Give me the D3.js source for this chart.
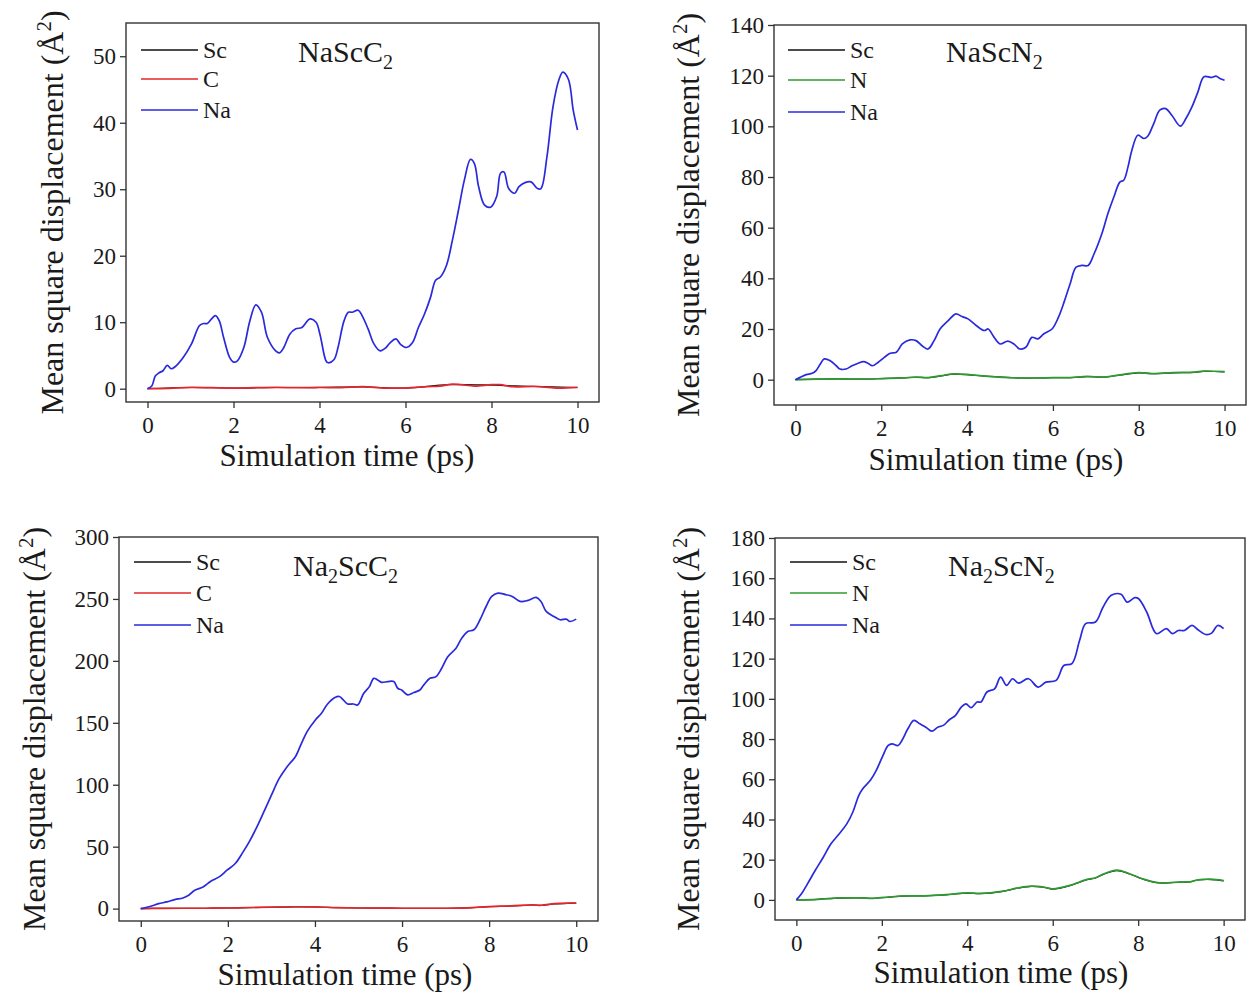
<!DOCTYPE html>
<html>
<head>
<meta charset="utf-8">
<script src="https://cdn.jsdelivr.net/npm/d3@7"></script>
<style>
  body { margin: 0; background: #fff; }
  svg { display: block; }
  text { font-family: "Liberation Serif", "Times New Roman", serif; fill: #1a1a1a; }
</style>
</head>
<body>
<div id="chart"></div>
<script>
// ---- data: [time (ps), MSD (Å^2)] ----
var tickX = [0, 2, 4, 6, 8, 10];

// NaScC2
var naScC2_Na = [[0,0],[0.1,0.4],[0.18,1.9],[0.27,2.4],[0.36,2.7],[0.46,3.5],[0.55,3.0],[0.64,3.3],[0.83,4.7],[1.02,6.7],[1.21,9.5],[1.3,9.8],[1.39,9.8],[1.49,10.5],[1.58,11.0],[1.67,10.2],[1.77,7.7],[1.91,4.7],[2.0,4.0],[2.09,4.2],[2.24,6.2],[2.38,10.2],[2.52,12.6],[2.65,11.5],[2.79,7.7],[2.98,5.7],[3.07,5.4],[3.17,6.2],[3.31,8.2],[3.45,9.0],[3.59,9.2],[3.78,10.5],[3.92,10.0],[4.01,8.2],[4.15,4.2],[4.2,3.9],[4.34,4.4],[4.43,6.2],[4.57,10.2],[4.67,11.5],[4.76,11.5],[4.9,11.8],[4.99,11.0],[5.13,9.0],[5.27,6.7],[5.41,5.7],[5.55,6.2],[5.64,6.9],[5.78,7.5],[5.88,6.7],[6.02,6.2],[6.16,6.9],[6.3,9.2],[6.44,11.2],[6.58,13.7],[6.7,16.3],[6.81,16.8],[6.95,18.5],[7.09,22.3],[7.23,26.8],[7.37,31.4],[7.51,34.5],[7.6,33.9],[7.7,30.4],[7.84,27.6],[7.98,27.3],[8.12,28.9],[8.21,32.4],[8.29,32.6],[8.4,30.1],[8.54,29.4],[8.64,30.4],[8.78,31.0],[8.92,31.1],[9.07,30.1],[9.15,30.1],[9.29,34.9],[9.43,42.4],[9.57,46.5],[9.66,47.6],[9.79,46.5],[9.9,41.9],[10,38.9]];
var naScC2_C = [[0,0],[0.5,0.05],[1,0.2],[1.5,0.15],[2,0.1],[2.5,0.15],[3,0.2],[3.5,0.15],[4,0.2],[4.5,0.15],[5,0.3],[5.5,0.1],[6,0.1],[6.5,0.3],[6.8,0.4],[7.1,0.7],[7.3,0.6],[7.6,0.4],[8.0,0.6],[8.2,0.6],[8.5,0.3],[9.0,0.35],[9.5,0.1],[10,0.2]];
var naScC2_Sc = [[0,0],[1,0.18],[2,0.1],[3,0.18],[4,0.18],[5,0.27],[6,0.1],[7,0.6],[8,0.55],[9,0.33],[10,0.18]];

// NaScN2
var naScN2_Na = [[0,0],[0.11,0.9],[0.25,2.0],[0.39,2.5],[0.48,3.6],[0.58,6.2],[0.67,8.2],[0.81,7.5],[0.95,5.5],[1.04,4.2],[1.18,4.2],[1.32,5.5],[1.46,6.5],[1.58,7.1],[1.69,6.5],[1.79,5.5],[1.93,6.9],[2.07,8.8],[2.21,10.4],[2.35,10.8],[2.49,14.1],[2.67,15.7],[2.81,15.4],[2.95,13.4],[3.09,12.1],[3.23,15.4],[3.37,20.0],[3.56,23.3],[3.74,26.0],[3.88,24.9],[4.02,24.0],[4.21,21.4],[4.4,19.4],[4.49,20.0],[4.63,16.7],[4.77,14.1],[4.95,15.2],[5.09,14.1],[5.23,12.1],[5.37,12.8],[5.51,16.7],[5.65,16.1],[5.79,18.1],[5.98,20.0],[6.13,24.7],[6.26,30.6],[6.4,37.8],[6.54,44.4],[6.68,45.1],[6.82,45.1],[6.96,49.7],[7.14,57.6],[7.28,65.5],[7.42,72.1],[7.56,78.0],[7.65,78.7],[7.75,84.0],[7.84,90.6],[7.98,96.5],[8.12,95.2],[8.21,96.1],[8.35,101.1],[8.49,106.4],[8.63,107.0],[8.77,104.4],[8.97,100.1],[9.1,103.1],[9.24,107.7],[9.38,113.6],[9.52,119.6],[9.7,119.3],[9.8,119.8],[9.89,118.9],[10,118.2]];
var naScN2_N = [[0,0],[0.5,0.2],[1,0.3],[1.5,0.2],[2,0.4],[2.5,0.7],[2.8,1.0],[3.1,0.8],[3.4,1.6],[3.7,2.3],[4.1,1.9],[4.5,1.3],[5.0,0.8],[5.3,0.6],[5.7,0.7],[6.0,0.8],[6.4,0.8],[6.8,1.3],[7.2,1.0],[7.6,2.0],[8.0,2.8],[8.3,2.4],[8.8,2.8],[9.3,3.0],[9.5,3.4],[10,3.2]];
var naScN2_Sc = [[0,0],[0.5,0.2],[1,0.3],[1.5,0.2],[2,0.4],[2.5,0.7],[2.8,0.95],[3.1,0.8],[3.4,1.5],[3.7,2.2],[4.1,1.8],[4.5,1.3],[5.0,0.8],[5.3,0.6],[5.7,0.7],[6.0,0.8],[6.4,0.8],[6.8,1.2],[7.2,1.0],[7.6,1.9],[8.0,2.7],[8.3,2.4],[8.8,2.7],[9.3,2.9],[9.5,3.3],[10,3.1]];

// Na2ScC2
var na2ScC2_Na = [[0,0],[0.23,1.9],[0.41,4.0],[0.6,5.4],[0.78,7.3],[0.97,8.6],[1.1,10.8],[1.24,14.8],[1.43,17.5],[1.61,22.1],[1.8,25.6],[1.98,31.0],[2.17,36.4],[2.35,45.8],[2.49,53.9],[2.63,63.3],[2.81,76.8],[3.0,91.6],[3.18,105.1],[3.36,114.6],[3.55,122.6],[3.69,133.4],[3.82,142.9],[4.01,152.3],[4.15,157.7],[4.29,165.2],[4.47,170.6],[4.56,171.2],[4.65,168.5],[4.75,165.2],[4.88,165.2],[4.98,164.4],[5.12,173.8],[5.25,179.2],[5.35,185.9],[5.44,184.6],[5.53,182.7],[5.67,183.3],[5.81,183.3],[5.9,177.9],[5.99,176.5],[6.13,172.5],[6.27,174.4],[6.41,176.5],[6.5,180.6],[6.64,185.9],[6.78,187.3],[6.91,194.0],[7.05,203.4],[7.24,210.2],[7.37,218.3],[7.51,223.7],[7.65,225.1],[7.79,233.2],[7.93,243.9],[8.06,252.0],[8.2,254.7],[8.39,253.4],[8.53,252.0],[8.71,248.0],[8.89,248.8],[9.08,251.2],[9.19,248.0],[9.31,239.9],[9.49,235.8],[9.63,233.2],[9.77,233.7],[9.86,231.8],[10,233.7]];
var na2ScC2_C = [[0,0],[0.5,0.2],[1,0.3],[1.5,0.3],[2,0.5],[2.5,0.9],[3,1.2],[3.5,1.5],[4,1.4],[4.5,0.8],[5,0.5],[5.5,0.4],[6,0.3],[6.5,0.3],[7,0.3],[7.5,0.6],[8,1.6],[8.5,2.2],[9,3.0],[9.2,2.7],[9.5,4.0],[9.8,4.5],[10,4.5]];
var na2ScC2_Sc = [[0,0],[0.5,0.2],[1,0.3],[1.5,0.3],[2,0.5],[2.5,0.8],[3,1.1],[3.5,1.4],[4,1.3],[4.5,0.8],[5,0.5],[5.5,0.4],[6,0.3],[6.5,0.3],[7,0.3],[7.5,0.6],[8,1.5],[8.5,2.1],[9,2.9],[9.2,2.6],[9.5,3.8],[9.8,4.3],[10,4.4]];

// Na2ScN2
var na2ScN2_Na = [[0,0],[0.12,3.0],[0.26,8.0],[0.44,14.6],[0.63,21.2],[0.81,27.9],[1.0,32.8],[1.18,37.8],[1.32,43.6],[1.46,51.9],[1.55,55.2],[1.74,59.7],[1.87,64.4],[2.01,71.0],[2.15,76.8],[2.24,77.6],[2.38,76.8],[2.47,79.3],[2.61,85.1],[2.75,89.3],[2.89,87.6],[3.03,85.9],[3.17,83.9],[3.31,85.9],[3.44,86.8],[3.58,89.6],[3.72,91.7],[3.86,95.9],[3.97,97.5],[4.09,95.6],[4.23,98.4],[4.32,98.4],[4.46,103.4],[4.64,105.0],[4.78,110.8],[4.92,106.7],[5.06,110.0],[5.2,107.8],[5.43,110.0],[5.66,105.8],[5.84,108.3],[6.08,109.2],[6.26,116.6],[6.45,117.5],[6.63,129.1],[6.77,137.4],[7.0,138.2],[7.18,145.7],[7.37,151.5],[7.6,152.0],[7.74,148.1],[7.92,150.3],[8.01,149.8],[8.2,143.2],[8.43,132.4],[8.66,134.9],[8.8,132.4],[8.94,134.0],[9.08,134.0],[9.26,136.5],[9.4,134.4],[9.58,132.0],[9.72,132.7],[9.86,136.5],[10,134.9]];
var na2ScN2_N = [[0,0],[0.5,0.3],[1,1.0],[1.5,1.0],[1.8,0.8],[2.2,1.5],[2.5,2.0],[3,2.0],[3.5,2.6],[4,3.5],[4.3,3.2],[4.8,4.2],[5.2,6.0],[5.5,6.8],[5.8,6.3],[6.0,5.5],[6.4,7.2],[6.8,10.2],[7.0,11.0],[7.2,13.0],[7.5,14.8],[7.8,13.0],[8.1,10.5],[8.5,8.5],[9,9.0],[9.2,9.0],[9.4,10.0],[9.7,10.3],[10,9.6]];
var na2ScN2_Sc = [[0,0],[0.5,0.3],[1,0.9],[1.5,1.0],[1.8,0.8],[2.2,1.4],[2.5,1.9],[3,2.0],[3.5,2.5],[4,3.4],[4.3,3.1],[4.8,4.1],[5.2,5.9],[5.5,6.7],[5.8,6.2],[6.0,5.4],[6.4,7.1],[6.8,10.0],[7.0,10.9],[7.2,12.8],[7.5,14.6],[7.8,12.9],[8.1,10.4],[8.5,8.4],[9,8.9],[9.2,8.9],[9.4,9.9],[9.7,10.1],[10,9.5]];

var colSc = "#111111", colC = "#e3262b", colN = "#2f9a31", colNa = "#2a2add";

// ---- panel layout ----
var panels = [
  { box: [126, 23, 599, 402], yDomain: [-2, 55], yTicks: [0, 10, 20, 30, 40, 50],
    title: ["NaScC", "2"], other: "C", series: [naScC2_Sc, naScC2_C, naScC2_Na], colors: [colSc, colC, colNa],
    legendX: 141, legendY: [50, 79, 110], ylabelX: 52, xlabel: [347, 466], titlePos: [298, 62] },
  { box: [774, 25, 1246, 405], yDomain: [-10, 140], yTicks: [0, 20, 40, 60, 80, 100, 120, 140],
    title: ["NaScN", "2"], other: "N", series: [naScN2_Sc, naScN2_N, naScN2_Na], colors: [colSc, colN, colNa],
    legendX: 788, legendY: [50, 80, 112], ylabelX: 688, xlabel: [996, 470], titlePos: [946, 62] },
  { box: [119, 537, 598, 921], yDomain: [-10, 300], yTicks: [0, 50, 100, 150, 200, 250, 300],
    title: ["Na", "2", "ScC", "2"], other: "C", series: [na2ScC2_Sc, na2ScC2_C, na2ScC2_Na], colors: [colSc, colC, colNa],
    legendX: 134, legendY: [562, 593, 625], ylabelX: 34, xlabel: [345, 985], titlePos: [293, 576] },
  { box: [775, 538, 1245, 920], yDomain: [-10, 180], yTicks: [0, 20, 40, 60, 80, 100, 120, 140, 160, 180],
    title: ["Na", "2", "ScN", "2"], other: "N", series: [na2ScN2_Sc, na2ScN2_N, na2ScN2_Na], colors: [colSc, colN, colNa],
    legendX: 790, legendY: [562, 593, 625], ylabelX: 688, xlabel: [1001, 983], titlePos: [948, 576] }
];

var svg = d3.select("#chart").append("svg")
  .attr("width", 1248)
  .attr("height", 993);

panels.forEach(function (p) {
  var x0 = p.box[0], y0 = p.box[1], x1 = p.box[2], y1 = p.box[3];

  var x = d3.scaleLinear().domain([-0.5, 10.5]).range([x0, x1]);
  var y = d3.scaleLinear().domain(p.yDomain).range([y1, y0]);

  var g = svg.append("g");

  // axes
  var ax = g.append("g")
    .attr("transform", "translate(0," + y1 + ")")
    .call(d3.axisBottom(x).tickValues(tickX).tickSize(6).tickPadding(9).tickSizeOuter(0));
  var ay = g.append("g")
    .attr("transform", "translate(" + x0 + ",0)")
    .call(d3.axisLeft(y).tickValues(p.yTicks).tickSize(6).tickPadding(4).tickSizeOuter(0));
  [ax, ay].forEach(function (a) {
    a.select(".domain").remove();
    a.selectAll(".tick line").attr("stroke", "#333").attr("stroke-width", 1.3);
    a.selectAll(".tick text").attr("font-size", 23).attr("font-family", "Liberation Serif").attr("fill", "#1a1a1a");
  });

  // lines (Sc drawn first, it sits under the C / N trace)
  var line = d3.line()
    .x(function (d) { return x(d[0]); })
    .y(function (d) { return y(d[1]); })
    .curve(d3.curveCatmullRom.alpha(0.5));

  p.series.forEach(function (s, i) {
    g.append("path")
      .datum(s)
      .attr("d", line)
      .attr("fill", "none")
      .attr("stroke", p.colors[i])
      .attr("stroke-width", i === 0 ? 1.2 : 1.7);
  });

  // frame
  g.append("rect")
    .attr("x", x0).attr("y", y0)
    .attr("width", x1 - x0).attr("height", y1 - y0)
    .attr("fill", "none")
    .attr("stroke", "#333")
    .attr("stroke-width", 1.4);

  // legend
  var names = ["Sc", p.other, "Na"];
  names.forEach(function (n, i) {
    g.append("line")
      .attr("x1", p.legendX).attr("x2", p.legendX + 57)
      .attr("y1", p.legendY[i]).attr("y2", p.legendY[i])
      .attr("stroke", p.colors[i]).attr("stroke-width", 1.6);
    g.append("text")
      .attr("x", p.legendX + 62).attr("y", p.legendY[i])
      .attr("dy", "0.35em")
      .attr("font-size", 24)
      .text(n);
  });

  // title with subscripts
  var t = g.append("text")
    .attr("x", p.titlePos[0]).attr("y", p.titlePos[1])
    .attr("font-size", 30);
  p.title.forEach(function (part, i) {
    var sp = t.append("tspan").text(part);
    if (i % 2 === 1) {
      sp.attr("font-size", 20).attr("dy", 7);
    } else if (i > 0) {
      sp.attr("dy", -7);
    }
  });

  // axis titles
  g.append("text")
    .attr("x", p.xlabel[0]).attr("y", p.xlabel[1])
    .attr("text-anchor", "middle")
    .attr("font-size", 31)
    .text("Simulation time (ps)");

  var yl = g.append("text")
    .attr("transform", "translate(" + p.ylabelX + "," + ((y0 + y1) / 2) + ") rotate(-90)")
    .attr("text-anchor", "middle")
    .attr("dy", "0.35em")
    .attr("font-size", 32);
  yl.append("tspan").text("Mean square displacement (Å");
  yl.append("tspan").text("2").attr("font-size", 21).attr("dy", -12);
  yl.append("tspan").text(")").attr("dy", 12);
});
</script>
</body>
</html>
